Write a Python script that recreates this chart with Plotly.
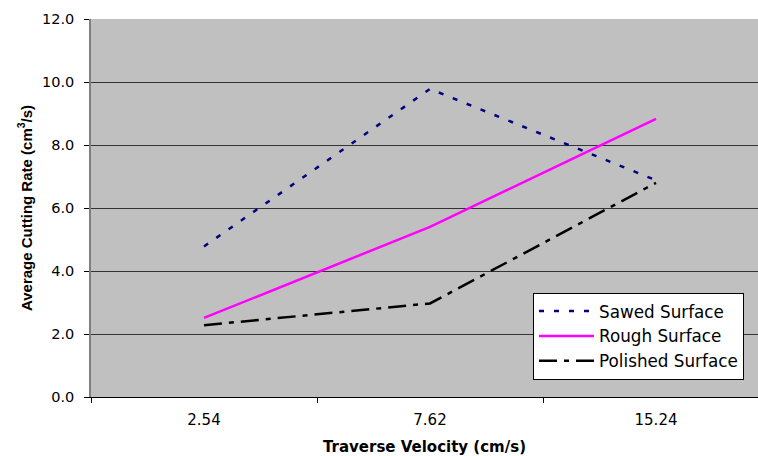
import plotly.graph_objects as go

categories = ["2.54", "7.62", "15.24"]
sawed = [4.78, 9.78, 6.88]
rough = [2.51, 5.40, 8.83]
polished = [2.28, 2.97, 6.80]
y_ticks = [0, 2, 4, 6, 8, 10, 12]

xpos = list(range(len(categories)))
boundaries = [i - 0.5 for i in range(len(categories) + 1)]

fig = go.Figure()
fig.add_trace(go.Scatter(x=xpos, y=sawed, mode="lines", name="Sawed Surface",
                         line=dict(color="#000080", width=2.5, dash="5px,10px")))
fig.add_trace(go.Scatter(x=xpos, y=rough, mode="lines", name="Rough Surface",
                         line=dict(color="#FF00FF", width=2.5)))
fig.add_trace(go.Scatter(x=xpos, y=polished, mode="lines", name="Polished Surface",
                         line=dict(color="#000000", width=2.5, dash="18px,7px,5px,7px")))

fig.update_layout(
    width=758, height=456,
    margin=dict(l=91, r=0, t=19, b=59),
    paper_bgcolor="white", plot_bgcolor="#C0C0C0",
    font=dict(family="DejaVu Sans", size=15, color="black"),
    showlegend=True,
    legend=dict(x=0.6627, y=0.276, xanchor="left", yanchor="top",
                bgcolor="white", bordercolor="black", borderwidth=1,
                font=dict(size=16.8, family="DejaVu Sans"),
                tracegroupgap=0, itemwidth=55),
)
fig.update_xaxes(range=[-0.5, -0.5 + 667 / 226], showgrid=False, zeroline=False,
                 showline=True, linecolor="black", linewidth=1,
                 tickmode="array", tickvals=xpos, ticktext=categories,
                 ticks="", ticklabelstandoff=9,
                 tickfont=dict(family="DejaVu Sans", size=15),
                 minor=dict(tickmode="array", tickvals=boundaries, ticks="outside",
                            ticklen=5, tickcolor="black", showgrid=False),
                 title=dict(text="<b>Traverse Velocity (cm/s)</b>",
                            font=dict(family="DejaVu Sans", size=15), standoff=14))
fig.update_yaxes(range=[0, 12], tickvals=y_ticks, tickformat=".1f",
                 showgrid=True, gridcolor="#333333", gridwidth=1, zeroline=False,
                 showline=True, linecolor="#808080", linewidth=1.5,
                 ticks="outside", ticklen=5, tickcolor="black",
                 ticklabelstandoff=7,
                 tickfont=dict(family="DejaVu Sans", size=14.5),
                 title=dict(text="<b>Average Cutting Rate (cm<sup>3</sup>/s)</b>",
                            font=dict(family="Arial, Liberation Sans", size=15), standoff=6))

fig.write_html("out.html")
